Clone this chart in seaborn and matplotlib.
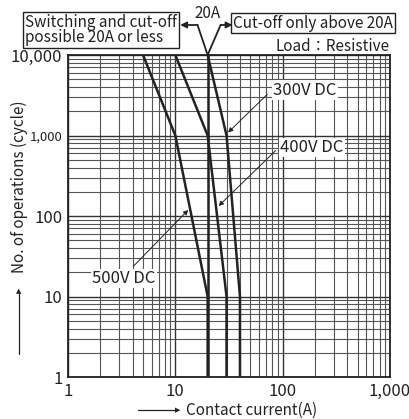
import numpy as np
import pandas as pd
import seaborn as sns
import matplotlib.pyplot as plt
from matplotlib.ticker import FixedLocator, FixedFormatter, LogLocator, NullFormatter

# life curves
current_500 = [5, 10, 20, 20]
ops_500 = [10000, 1000, 10, 1]
current_400 = [10, 20, 30, 30]
ops_400 = [10000, 1000, 10, 1]
current_300 = [20, 30, 40, 40]
ops_300 = [10000, 1000, 10, 1]
limit_current = 20  # switching limit line

x_ticks = [1, 10, 100, 1000]
x_labels = ["1", "10", "100", "1,000"]
y_ticks = [1, 10, 100, 1000, 10000]
y_labels = ["1", "10", "100", "1,000", "10,000"]

df = pd.concat([
    pd.DataFrame({"current": current_500, "ops": ops_500, "load": "500V DC"}),
    pd.DataFrame({"current": current_400, "ops": ops_400, "load": "400V DC"}),
    pd.DataFrame({"current": current_300, "ops": ops_300, "load": "300V DC"}),
], ignore_index=True)

sns.set_style("white")
plt.rcParams['font.family'] = ['Noto Sans CJK JP', 'DejaVu Sans']

W, H = 410, 419
fig = plt.figure(figsize=(4.10, 4.19), dpi=100)
ax = fig.add_axes([68 / W, 1 - 377 / H, (390 - 68) / W, (377 - 55) / H])

ax.set_xscale("log")
ax.set_yscale("log")
ax.set_xlim(1, 1000)
ax.set_ylim(1, 10000)

sns.lineplot(data=df, x="current", y="ops", units="load", estimator=None, sort=False,
             color="#222222", linewidth=1.8, ax=ax, legend=False)
ax.plot([limit_current, limit_current], [1, 10000], color="#222222", lw=1.8)

# grid
ax.xaxis.set_major_locator(FixedLocator(x_ticks))
ax.xaxis.set_major_formatter(FixedFormatter(x_labels))
ax.yaxis.set_major_locator(FixedLocator(y_ticks))
ax.yaxis.set_major_formatter(FixedFormatter(y_labels))
ax.xaxis.set_minor_locator(LogLocator(base=10, subs=np.arange(2, 10)))
ax.yaxis.set_minor_locator(LogLocator(base=10, subs=np.arange(2, 10)))
ax.xaxis.set_minor_formatter(NullFormatter())
ax.yaxis.set_minor_formatter(NullFormatter())
ax.grid(which="major", color="#333333", lw=1.0)
ax.grid(which="minor", color="#555555", lw=0.8)
ax.tick_params(which="both", length=0, labelsize=12, colors="#222222", pad=4)
for s in ax.spines.values():
    s.set_color("#222222")
    s.set_linewidth(1.3)
ax.set_xlabel("")
ax.set_ylabel("")
# the 1,000 label is squeezed next to the axis title in the original
fig.canvas.draw()
ax.get_yticklabels()[3].set_fontsize(9.5)

# curve labels
lbl = dict(fontsize=12, color="#222222", ha="center", va="center",
           bbox=dict(facecolor="white", edgecolor="none", pad=1))
arr = dict(arrowstyle="-|>", color="#222222", lw=0.7, mutation_scale=7, shrinkA=0, shrinkB=0)
ax.annotate("", xy=(31, 1090), xytext=(72, 3250), arrowprops=arr)
ax.text(160, 3650, "300V DC", **lbl)
ax.annotate("", xy=(25.3, 133), xytext=(86, 650), arrowprops=arr)
ax.text(187, 710, "400V DC", **lbl)
ax.annotate("", xy=(13.2, 119), xytext=(4.06, 23.7), arrowprops=arr)
ax.text(3.3, 16.8, "500V DC", **lbl)

# 20A divider arrows above the plot
ax.plot([16.1, 20, 26.4], [23600, 10000, 23600], color="#222222", lw=1.3, clip_on=False)
ax.annotate("", xy=(11.1, 23600), xytext=(16.1, 23600), annotation_clip=False,
            arrowprops=dict(arrowstyle="-|>", color="#222222", lw=1.3, mutation_scale=9,
                            shrinkA=0, shrinkB=0))
ax.annotate("", xy=(34.1, 23600), xytext=(26.4, 23600), annotation_clip=False,
            arrowprops=dict(arrowstyle="-|>", color="#222222", lw=1.3, mutation_scale=9,
                            shrinkA=0, shrinkB=0))

def px(x, y):
    return x / W, 1 - y / H

box = dict(facecolor="white", edgecolor="#222222", lw=1.0, boxstyle="square,pad=0.12")
fig.text(*px(208, 14), "20A", fontsize=11, ha="center", va="center", color="#222222")
fig.text(*px(25, 30), "Switching and cut-off\npossible 20A or less", fontsize=11,
         ha="left", va="center", color="#222222", linespacing=0.9, bbox=box)
fig.text(*px(313, 23), "Cut-off only above 20A", fontsize=11, ha="center", va="center",
         color="#222222", bbox=box)
fig.text(*px(390, 46), "Load：Resistive", fontsize=11, ha="right", va="center", color="#222222")

# axis titles with arrows
fig.text(*px(19, 187), "No. of operations (cycle)", fontsize=11, rotation=90,
         ha="center", va="center", color="#222222")
fig.add_artist(plt.Line2D([19 / W, 19 / W], [1 - 354 / H, 1 - 294 / H], color="#222222", lw=0.9))
fig.text(*px(19, 291), "▲", fontsize=5, ha="center", va="center", color="#222222",
         family="DejaVu Sans")
fig.text(*px(186, 410), "Contact current(A)", fontsize=11, ha="left", va="center",
         color="#222222")
fig.add_artist(plt.Line2D([138 / W, 176 / W], [1 - 410 / H, 1 - 410 / H], color="#222222", lw=0.9))
fig.text(*px(178, 410), "▶", fontsize=5, ha="center", va="center", color="#222222",
         family="DejaVu Sans")

fig.savefig("out.png", dpi=100)
